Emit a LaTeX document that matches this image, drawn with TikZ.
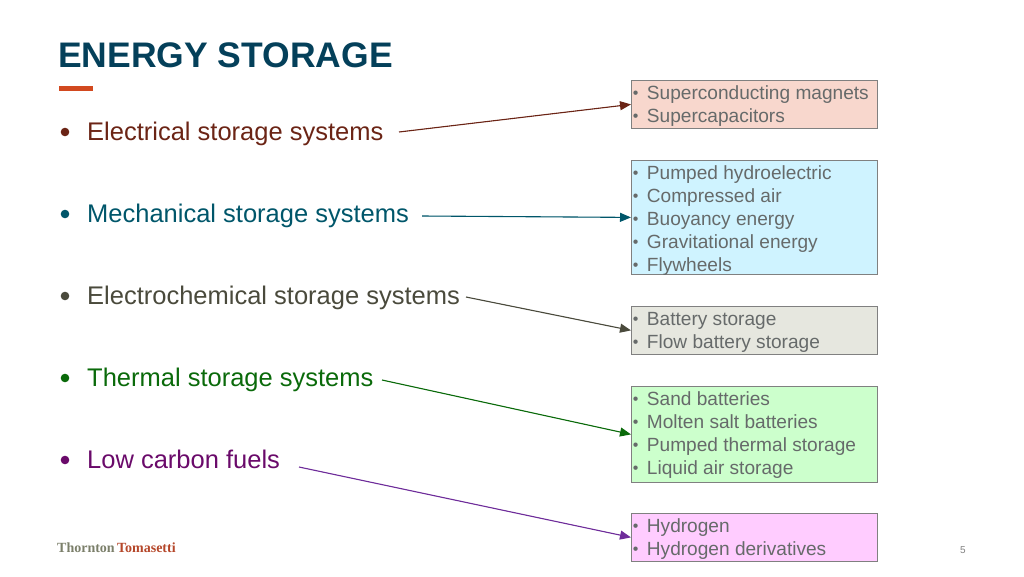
\documentclass[tikz,border=0pt]{standalone}
\usepackage{fontspec}
\setmainfont{Liberation Sans}
\newfontfamily\logofont{Liberation Serif}
\usetikzlibrary{arrows.meta}
\definecolor{titleblue}{HTML}{04405A}
\definecolor{titlered}{HTML}{D2491F}
\definecolor{elecred}{HTML}{6B2415}
\definecolor{mechblue}{HTML}{00566A}
\definecolor{chemgrey}{HTML}{4A4A3C}
\definecolor{thermgreen}{HTML}{0A6A0A}
\definecolor{fuelpurple}{HTML}{6A0A6A}
\definecolor{arrowpurple}{HTML}{6E2C9A}
\definecolor{boxtext}{HTML}{666A6A}
\newcommand{\bitem}[1]{\makebox[14pt][l]{\fontsize{16}{23}\selectfont\raisebox{1pt}{•}}#1}
\newcommand{\boxlines}[2]{\parbox[c][#1pt][t]{243pt}{\rule{0pt}{19pt}#2}}
\tikzset{
    sysitem/.style={anchor=base west, inner sep=0pt, font=\fontsize{25.5}{30}\selectfont},
    listbox/.style={anchor=north west, draw=gray, line width=0.8pt, minimum width=245pt,
        inner xsep=1.5pt, inner ysep=0pt, text=boxtext, font=\fontsize{19.1}{23}\selectfont},
    linkarrow/.style={line width=1.1pt, -{Triangle[length=11pt,width=9pt]}}
}
\begin{document}
\begin{tikzpicture}[x=1pt, y=-1pt]
    \useasboundingbox (0, 0) rectangle (1024, 576);

    \node [anchor=base west, inner sep=0pt, text=titleblue, font=\fontsize{35.5}{38}\selectfont\bfseries] (title) at (58, 67) {ENERGY STORAGE};
    \fill [titlered] (59, 86) rectangle (93, 91);

    % systems on the left
    \fill [elecred] (65, 132) circle (4.3);
    \node [sysitem, text=elecred] (elec) at (87, 140) {Electrical storage systems};
    \fill [mechblue] (65, 214) circle (4.3);
    \node [sysitem, text=mechblue] (mech) at (87, 222) {Mechanical storage systems};
    \fill [chemgrey] (65, 296) circle (4.3);
    \node [sysitem, text=chemgrey] (chem) at (87, 304) {Electrochemical storage systems};
    \fill [thermgreen] (65, 378) circle (4.3);
    \node [sysitem, text=thermgreen] (therm) at (87, 386) {Thermal storage systems};
    \fill [fuelpurple] (65, 460) circle (4.3);
    \node [sysitem, text=fuelpurple] (fuel) at (87, 468) {Low carbon fuels};

    % boxes on the right
    \node [listbox, fill={rgb,255:red,248;green,215;blue,205}] (elecbox) at (631, 80)
        {\boxlines{48}{\bitem{Superconducting magnets}\\\bitem{Supercapacitors}}};
    \node [listbox, fill={rgb,255:red,207;green,243;blue,255}] (mechbox) at (631, 160)
        {\boxlines{114}{\bitem{Pumped hydroelectric}\\\bitem{Compressed air}\\\bitem{Buoyancy energy}\\\bitem{Gravitational energy}\\\bitem{Flywheels}}};
    \node [listbox, fill={rgb,255:red,230;green,231;blue,223}] (chembox) at (631, 306)
        {\boxlines{48}{\bitem{Battery storage}\\\bitem{Flow battery storage}}};
    \node [listbox, fill={rgb,255:red,204;green,255;blue,204}] (thermbox) at (631, 386)
        {\boxlines{96}{\bitem{Sand batteries}\\\bitem{Molten salt batteries}\\\bitem{Pumped thermal storage}\\\bitem{Liquid air storage}}};
    \node [listbox, fill={rgb,255:red,255;green,204;blue,255}] (fuelbox) at (631, 513)
        {\boxlines{48}{\bitem{Hydrogen}\\\bitem{Hydrogen derivatives}}};

    \coordinate (elecstart) at (399, 132);
    \coordinate (mechstart) at (422, 216);
    \coordinate (chemstart) at (466, 297);
    \coordinate (thermstart) at (382, 380);
    \coordinate (fuelstart) at (299, 467);

    \draw [linkarrow, draw=elecred, fill=elecred] (elecstart) -- (elecbox.west);
    \draw [linkarrow, draw=mechblue, fill=mechblue] (mechstart) -- (mechbox.west);
    \draw [linkarrow, draw=chemgrey, fill=chemgrey] (chemstart) -- (chembox.west);
    \draw [linkarrow, draw=thermgreen, fill=thermgreen] (thermstart) -- (thermbox.west);
    \draw [linkarrow, draw=arrowpurple, fill=arrowpurple] (fuelstart) -- (fuelbox.west);

    \node [anchor=base west, inner sep=0pt, font=\fontsize{14}{14}\selectfont\logofont\bfseries] (logo) at (57, 552)
        {\textcolor[HTML]{7B7F6A}{Thornton}\,\textcolor[HTML]{B5472A}{Tomasetti}};
    \node [anchor=base, inner sep=0pt, text=gray, font=\fontsize{10}{12}\selectfont] (pagenum) at (963, 553) {5};
\end{tikzpicture}
\end{document}
